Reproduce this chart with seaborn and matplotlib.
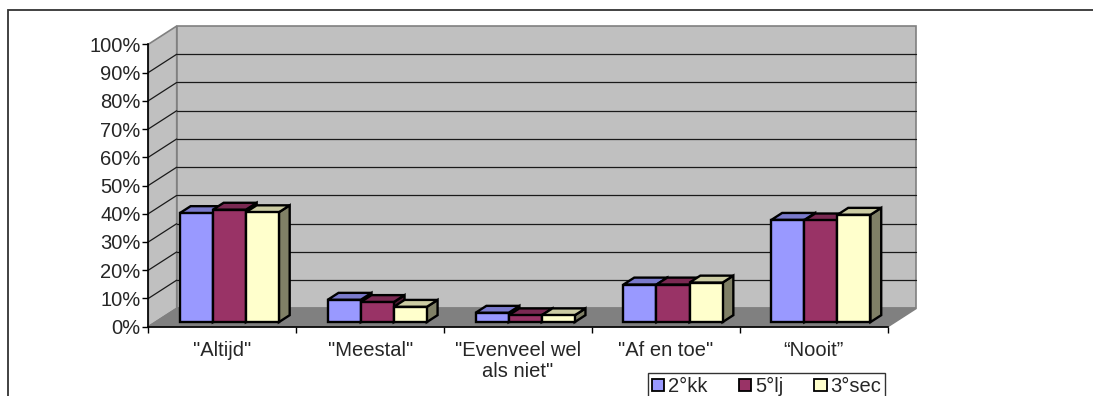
import numpy as np
import pandas as pd
import matplotlib
matplotlib.use("Agg")
import matplotlib.pyplot as plt
import matplotlib.transforms as mtransforms
from matplotlib.patches import Polygon, Rectangle, Patch
import seaborn as sns

# ---- data -------------------------------------------------------------
categories = ['"Altijd"', '"Meestal"', '"Evenveel wel\nals niet"', '"Af en toe"',
              "\u201cNooit\u201d"]
series = ["2°kk", "5°lj", "3°sec"]
values_2kk = [38.6, 7.9, 3.3, 13.3, 36.2]
values_5lj = [39.8, 7.1, 2.4, 13.3, 36.0]
values_3sec = [38.9, 5.4, 2.4, 14.0, 38.0]
y_ticks = [0, 10, 20, 30, 40, 50, 60, 70, 80, 90, 100]
y_tick_labels = ["0%", "10%", "20%", "30%", "40%", "50%", "60%", "70%", "80%", "90%", "100%"]

series_colors = ["#9999FF", "#993366", "#FFFFCC"]

df = pd.DataFrame({
    "category": np.repeat(categories, len(series)),
    "series": series * len(categories),
    "value": np.column_stack([values_2kk, values_5lj, values_3sec]).ravel(),
})

# ---- style --------------------------------------------------------------
sns.set_style("white")
plt.rcParams["font.family"] = ["Liberation Sans", "DejaVu Sans"]
FS = 14.5

fig = plt.figure(figsize=(10.93, 3.96), dpi=100)
ax = fig.add_axes([0.1357, 0.175, 0.6765, 0.7131])
ax.patch.set_visible(False)

palette = dict(zip(series, series_colors))
sns.barplot(data=df, x="category", y="value", hue="series", order=categories,
            hue_order=series, palette=palette, width=0.67, gap=0,
            saturation=1, errorbar=None, edgecolor="black", linewidth=1.7,
            legend=False, ax=ax)
bars = sorted([p for p in ax.patches if isinstance(p, Rectangle)],
              key=lambda p: p.get_x())

ax.set_xlim(-0.5, 4.5)
ax.set_ylim(0, 100)

# oblique depth vector of the chart box (data units)
DX, DY = 0.192, 6.48
x0, x1 = -0.5, 4.5
wall_face, wall_edge = "#C0C0C0", "#808080"

# left side wall, back wall and floor
side = Polygon([(x0, 0), (x0 + DX, DY), (x0 + DX, 100 + DY), (x0, 100)],
               closed=True, facecolor=wall_face, edgecolor=wall_edge, lw=1.2,
               clip_on=False, zorder=0.5)
back = Polygon([(x0 + DX, DY), (x1 + DX, DY), (x1 + DX, 100 + DY), (x0 + DX, 100 + DY)],
               closed=True, facecolor=wall_face, edgecolor=wall_edge, lw=1.2,
               clip_on=False, zorder=0.5)
floor = Polygon([(x0, 0), (x1, 0), (x1 + DX, DY), (x0 + DX, DY)],
                closed=True, facecolor="#808080", edgecolor=wall_edge, lw=1.2,
                clip_on=False, zorder=0.6)
for p in (side, back, floor):
    ax.add_patch(p)

# gridlines on the side and back walls
for v in y_ticks[1:-1]:
    ax.plot([x0, x0 + DX], [v, v + DY], color="#1a1a1a", lw=0.9,
            clip_on=False, zorder=0.7)
    ax.plot([x0 + DX, x1 + DX], [v + DY, v + DY], color="#1a1a1a", lw=0.9,
            clip_on=False, zorder=0.7)

# bars stand a quarter of the way into the box and are 0.38 of its depth
front = mtransforms.Affine2D().translate(0.25 * DX, 0.25 * DY) + ax.transData
bdx, bdy = 0.38 * DX, 0.38 * DY


def shade(hexcol, k):
    r, g, b = matplotlib.colors.to_rgb(hexcol)
    return (r * k, g * k, b * k)


for i, bar in enumerate(bars):
    bx, bw, bh = bar.get_x(), bar.get_width(), bar.get_height()
    col = bar.get_facecolor()
    z = 3 + i * 0.01
    top = Polygon([(bx, bh), (bx + bw, bh), (bx + bw + bdx, bh + bdy), (bx + bdx, bh + bdy)],
                  closed=True, facecolor=shade(col, 0.8), edgecolor="black", lw=1.7,
                  transform=front, clip_on=False, zorder=z + 0.002, joinstyle="miter")
    sidef = Polygon([(bx + bw, 0), (bx + bw + bdx, bdy), (bx + bw + bdx, bh + bdy), (bx + bw, bh)],
                    closed=True, facecolor=shade(col, 0.5), edgecolor="black", lw=1.7,
                    transform=front, clip_on=False, zorder=z + 0.001, joinstyle="miter")
    ax.add_patch(sidef)
    ax.add_patch(top)
    bar.set_transform(front)
    bar.set_clip_on(False)
    bar.set_zorder(z + 0.003)
    bar.set_joinstyle("miter")

# front axes
for s in ("top", "right"):
    ax.spines[s].set_visible(False)
for s in ("left", "bottom"):
    ax.spines[s].set_color("black")
    ax.spines[s].set_linewidth(1.2)
    ax.spines[s].set_zorder(2.5)

ax.set_yticks(y_ticks, labels=y_tick_labels)
ax.tick_params(axis="y", direction="out", length=4.5, width=1, color="black",
               pad=1, labelsize=FS, left=True)
ax.set_xticks(range(len(categories)), labels=categories)
ax.set_xticks(np.arange(-0.5, len(categories), 1), minor=True)
ax.tick_params(axis="x", which="major", length=0, pad=10, labelsize=FS)
ax.tick_params(axis="x", which="minor", direction="out", length=4.5, width=1,
               color="black", bottom=True)
for lab in ax.get_xticklabels():
    lab.set_linespacing(1.15)
ax.set_xlabel("")
ax.set_ylabel("")

# legend
handles = [Patch(facecolor=c, edgecolor="black", lw=1.3) for c in series_colors]
leg = fig.legend(handles, series, loc="upper left",
                 bbox_to_anchor=(648 / 1093, 1 - 373 / 396), ncol=3,
                 frameon=True, fancybox=False, fontsize=FS, borderaxespad=0,
                 handlelength=0.6, handleheight=0.6, handletextpad=0.2,
                 columnspacing=1.55, borderpad=0.2)
leg.get_frame().set_edgecolor("black")
leg.get_frame().set_linewidth(1.0)

# chart frame
fig.add_artist(Rectangle((8 / 1093, -0.5), 2.0, 0.5 + 1 - 10 / 396,
                         transform=fig.transFigure, fill=False,
                         edgecolor="#333333", lw=1.3))

fig.savefig("out.png", dpi=100)
